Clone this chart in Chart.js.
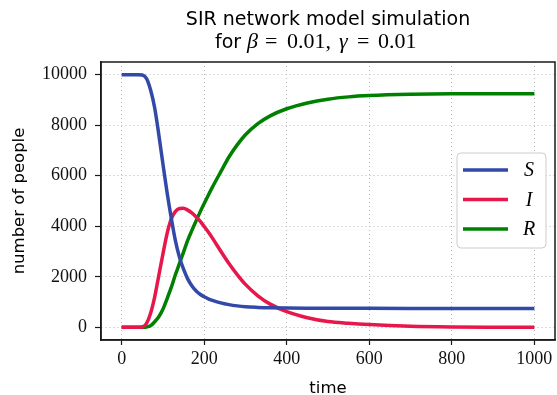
<!DOCTYPE html>
<html>
<head>
<meta charset="utf-8">
<script src="https://cdn.jsdelivr.net/npm/chart.js"></script>
<style>
  html, body { margin: 0; padding: 0; background: #fff; }
</style>
</head>
<body>
<canvas id="chart" width="557" height="395"></canvas>
<script>
// time steps and the three compartments
const time = [0, 20, 40, 50, 60, 70, 80, 90, 100, 110, 120, 130, 140, 150, 160, 170, 180, 190, 200,
              210, 220, 240, 260, 280, 300, 330, 360, 400, 450, 500, 550, 600, 700, 800, 900, 1000];
const susceptible = [10000, 10000, 9998, 9985, 9850, 9400, 8690, 7630, 6470, 5350, 4350, 3450, 2780, 2300, 1920, 1650, 1450, 1310, 1210,
                     1130, 1070, 970, 900, 850, 815, 790, 775, 765, 758, 755, 753, 752, 751, 750, 750, 750];
const infected = [0, 0, 2, 15, 150, 550, 1200, 2050, 2900, 3700, 4280, 4580, 4700, 4710, 4640, 4530, 4380, 4200, 3990,
                  3770, 3530, 3020, 2530, 2090, 1700, 1250, 920, 620, 380, 230, 160, 110, 45, 17, 7, 3];
const recovered = [0, 0, 0, 3, 15, 60, 220, 420, 720, 1130, 1570, 2070, 2520, 2980, 3440, 3830, 4200, 4560, 4900,
                   5230, 5550, 6150, 6740, 7220, 7620, 8060, 8370, 8650, 8880, 9030, 9120, 9170, 9220, 9240, 9245, 9248];

const xTicks = [0, 200, 400, 600, 800, 1000];
const yTicks = [0, 2000, 4000, 6000, 8000, 10000];

const seriesLabels = ['S', 'I', 'R'];
const seriesColors = ['#3349a8', '#e8174b', '#008000'];

function toPoints(values) {
    return time.map((t, i) => ({ x: t, y: values[i] }));
}

// Black frame around the plot area (matplotlib spines)
const framePlugin = {
    id: 'frame',
    afterDraw(chart) {
        const { ctx, chartArea: a } = chart;
        ctx.save();
        ctx.strokeStyle = '#1a1a1a';
        ctx.lineWidth = 1.5;
        ctx.strokeRect(a.left, a.top, a.right - a.left, a.bottom - a.top);
        ctx.restore();
    }
};

// Two line title, second line mixes text and math fonts
const titlePlugin = {
    id: 'mixedTitle',
    afterDraw(chart) {
        const { ctx, chartArea: a } = chart;
        const cx = (a.left + a.right) / 2;
        ctx.save();
        ctx.fillStyle = '#000';
        ctx.textBaseline = 'alphabetic';
        ctx.textAlign = 'center';
        ctx.font = '19px "DejaVu Sans"';
        ctx.fillText('SIR network model simulation', cx, 25);

        // [text, font, offset of left edge from the centre]
        const parts = [
            ['for', '19px "DejaVu Sans"', -113],
            ['\u03B2', 'italic 22px "Liberation Serif"', -81],
            ['=', '22px "Liberation Serif"', -63],
            ['0.01,', '22px "Liberation Serif"', -41],
            ['\u03B3', 'italic 22px "Liberation Serif"', 11],
            ['=', '22px "Liberation Serif"', 29],
            ['0.01', '22px "Liberation Serif"', 50]
        ];
        ctx.textAlign = 'left';
        parts.forEach(p => {
            ctx.font = p[1];
            ctx.fillText(p[0], cx + p[2], 48);
        });
        ctx.restore();
    }
};

// Legend box inside the plot, right side
const legendPlugin = {
    id: 'boxLegend',
    afterDraw(chart) {
        const { ctx } = chart;
        const bx = 457, by = 153, bw = 89, bh = 95;
        ctx.save();
        ctx.beginPath();
        ctx.roundRect(bx, by, bw, bh, 4);
        ctx.fillStyle = 'rgba(255,255,255,0.92)';
        ctx.fill();
        ctx.strokeStyle = '#cccccc';
        ctx.lineWidth = 1;
        ctx.stroke();
        chart.data.datasets.forEach((ds, i) => {
            const y = 170 + i * 29.5;
            ctx.beginPath();
            ctx.moveTo(463, y);
            ctx.lineTo(508, y);
            ctx.strokeStyle = ds.borderColor;
            ctx.lineWidth = 3.5;
            ctx.stroke();
            ctx.fillStyle = '#000';
            ctx.font = 'italic 20px "Liberation Serif"';
            ctx.textAlign = 'center';
            ctx.textBaseline = 'middle';
            ctx.fillText(ds.label, 529, y + 1);
        });
        ctx.restore();
    }
};

const ctx = document.getElementById('chart').getContext('2d');
const chart = new Chart(ctx, {
    type: 'line',
    data: {
        datasets: [susceptible, infected, recovered].map((values, i) => ({
            label: seriesLabels[i],
            data: toPoints(values),
            borderColor: seriesColors[i],
            borderWidth: 3.5,
            pointRadius: 0,
            fill: false,
            cubicInterpolationMode: 'monotone'
        }))
    },
    options: {
        responsive: false,
        animation: false,
        layout: { padding: { top: 62, right: 2, left: 0, bottom: 0 } },
        plugins: {
            legend: { display: false },
            title: { display: false },
            tooltip: { enabled: false }
        },
        scales: {
            x: {
                type: 'linear',
                min: -50,
                max: 1050,
                afterBuildTicks: scale => { scale.ticks = xTicks.map(v => ({ value: v })); },
                afterFit: scale => { scale.height = 55; },
                grid: { color: '#b8b8b8', lineWidth: 1, tickLength: 5, tickColor: '#1a1a1a', tickWidth: 1.2, tickBorderDash: [] },
                border: { display: true, color: '#1a1a1a', width: 1.5, dash: [1, 3] },
                ticks: {
                    color: '#111',
                    font: { family: 'Liberation Serif', size: 18 },
                    padding: 3,
                    maxRotation: 0,
                    callback: v => String(v)
                },
                title: {
                    display: true,
                    text: 'time',
                    color: '#000',
                    font: { family: 'DejaVu Sans', size: 16.5 },
                    padding: { top: 0, bottom: -4 }
                }
            },
            y: {
                type: 'linear',
                min: -500,
                max: 10500,
                afterBuildTicks: scale => { scale.ticks = yTicks.map(v => ({ value: v })); },
                afterFit: scale => { scale.width = 101; },
                grid: { color: '#b8b8b8', lineWidth: 1, tickLength: 6, tickColor: '#1a1a1a', tickWidth: 1.2, tickBorderDash: [] },
                border: { display: true, color: '#1a1a1a', width: 1.5, dash: [1, 3] },
                ticks: {
                    color: '#111',
                    font: { family: 'Liberation Serif', size: 18 },
                    padding: 8,
                    callback: v => String(v)
                },
                title: {
                    display: true,
                    text: 'number of people',
                    color: '#000',
                    font: { family: 'DejaVu Sans', size: 16.5 },
                    padding: { top: 10, bottom: 0 }
                }
            }
        }
    },
    plugins: [framePlugin, titlePlugin, legendPlugin]
});
</script>
</body>
</html>
